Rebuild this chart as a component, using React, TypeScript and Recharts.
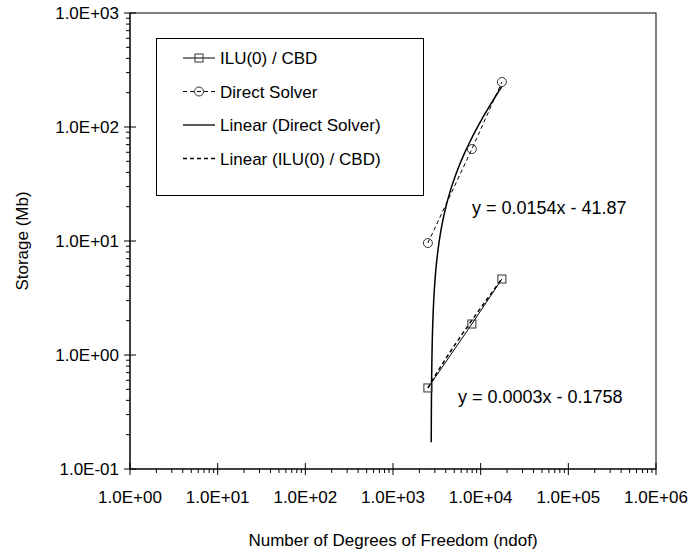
import { ComposedChart, Line, XAxis, YAxis } from "recharts"

// storage measurements per problem size
const ndof = [2500, 7940, 17460]
const iluStorage = [0.514, 1.87, 4.64]
const directStorage = [9.6, 64, 248]

// least-squares fits shown on the plot (labels print the rounded coefficients)
const directFit = { slope: 0.0154, intercept: -41.87 }
const iluFit = { slope: 0.000276, intercept: -0.1758 }
const directTrendStart = 2730

const xDecades = [1, 10, 100, 1000, 10000, 100000, 1000000]
const yDecades = [0.1, 1, 10, 100, 1000]

const FONT = "'Liberation Sans', Arial, sans-serif"
const W = 694
const H = 555
const PLOT = { left: 130, right: 656, top: 13, bottom: 469 }

const fitLabel = (f: { slope: number; intercept: number }, interceptDigits: number) =>
  `y = ${f.slope.toFixed(4)}x ${f.intercept < 0 ? "-" : "+"} ${Math.abs(f.intercept).toFixed(interceptDigits)}`

const withMinors = (decades: number[]) => {
  const out: number[] = []
  decades.forEach((d, i) => {
    out.push(d)
    if (i < decades.length - 1) for (let m = 2; m <= 9; m++) out.push(d * m)
  })
  return out
}

const sci = (v: number) => {
  const e = Math.round(Math.log10(v))
  return `1.0E${e < 0 ? "-" : "+"}${String(Math.abs(e)).padStart(2, "0")}`
}

const isDecade = (v: number) => Math.abs(Math.log10(v) - Math.round(Math.log10(v))) < 1e-9

const trend = (fit: { slope: number; intercept: number }, x0: number, x1: number, n = 80) => {
  const pts: { x: number; y: number }[] = []
  for (let i = 0; i <= n; i++) {
    const t = i / n
    const x = x0 + (x1 - x0) * t * t * t
    const y = fit.slope * x + fit.intercept
    if (y > 0) pts.push({ x, y })
  }
  return pts
}

const iluData = ndof.map((x, i) => ({ x, y: iluStorage[i] }))
const directData = ndof.map((x, i) => ({ x, y: directStorage[i] }))
const directTrend = trend(directFit, directTrendStart, ndof[ndof.length - 1])
const iluTrend = trend(iluFit, ndof[0], ndof[ndof.length - 1], 40)

const XTick = (props: any) => {
  const { x, y, payload } = props
  const v = payload.value
  if (!isDecade(v)) return <line x1={x} x2={x} y1={y} y2={y + 4} stroke="#000" />
  return (
    <g>
      <line x1={x} x2={x} y1={y - 6} y2={y + 6} stroke="#000" />
      <text x={x} y={y + 34} textAnchor="middle" fontSize={17} fontFamily={FONT} fill="#000">
        {sci(v)}
      </text>
    </g>
  )
}

const YTick = (props: any) => {
  const { x, y, payload } = props
  const v = payload.value
  if (!isDecade(v)) return <line x1={x - 4} x2={x} y1={y} y2={y} stroke="#000" />
  return (
    <g>
      <line x1={x - 6} x2={x + 6} y1={y} y2={y} stroke="#000" />
      <text x={x - 11} y={y + 6} textAnchor="end" fontSize={17} fontFamily={FONT} fill="#000">
        {sci(v)}
      </text>
    </g>
  )
}

const SquareDot = (props: any) => {
  const { cx, cy } = props
  if (cx == null || cy == null) return <g />
  return <rect x={cx - 4} y={cy - 4} width={8} height={8} fill="none" stroke="#333" />
}

const CircleDot = (props: any) => {
  const { cx, cy } = props
  if (cx == null || cy == null) return <g />
  return <circle cx={cx} cy={cy} r={4.5} fill="none" stroke="#333" />
}

const legendRows = [
  { name: "ILU(0) / CBD", dash: undefined, marker: "square", width: 1 },
  { name: "Direct Solver", dash: "4 3", marker: "circle", width: 1 },
  { name: "Linear (Direct Solver)", dash: undefined, marker: null, width: 1.3 },
  { name: "Linear (ILU(0) / CBD)", dash: "4 3", marker: null, width: 1.3 },
]

const ChartLegend = () => (
  <g>
    <rect x={156.5} y={38.5} width={267} height={157} fill="#fff" stroke="#000" />
    {legendRows.map((r, i) => {
      const cy = 58 + i * 33.5
      return (
        <g key={r.name}>
          <line x1={183} x2={215} y1={cy} y2={cy} stroke="#000" strokeWidth={r.width} strokeDasharray={r.dash} />
          {r.marker === "square" && <SquareDot cx={199} cy={cy} />}
          {r.marker === "circle" && <CircleDot cx={199} cy={cy} />}
          <text x={220} y={cy + 6} fontSize={17} fontFamily={FONT} fill="#000">
            {r.name}
          </text>
        </g>
      )
    })}
  </g>
)

export default function App() {
  return (
    <div style={{ position: "absolute", left: 0, top: 0, width: W, height: H, background: "#fff" }}>
      <ComposedChart
        width={W}
        height={H}
        margin={{ top: PLOT.top, right: W - PLOT.right, bottom: 0, left: 0 }}
      >
        <XAxis
          type="number"
          dataKey="x"
          scale="log"
          domain={[1, 1000000]}
          ticks={withMinors(xDecades)}
          interval={0}
          allowDataOverflow
          height={H - PLOT.bottom}
          tickSize={0}
          tickMargin={0}
          tick={<XTick />}
          axisLine={{ stroke: "#000" }}
        />
        <YAxis
          type="number"
          dataKey="y"
          scale="log"
          domain={[0.1, 1000]}
          ticks={withMinors(yDecades)}
          interval={0}
          allowDataOverflow
          width={PLOT.left}
          tickSize={0}
          tickMargin={0}
          tick={<YTick />}
          axisLine={{ stroke: "#000" }}
        />
        <rect
          x={PLOT.left}
          y={PLOT.top}
          width={PLOT.right - PLOT.left}
          height={PLOT.bottom - PLOT.top}
          fill="none"
          stroke="#000"
        />
        <Line
          data={directTrend}
          dataKey="y"
          type="linear"
          stroke="#000"
          strokeWidth={1.5}
          dot={false}
          isAnimationActive={false}
        />
        <Line
          data={iluTrend}
          dataKey="y"
          type="linear"
          stroke="#000"
          strokeWidth={1.5}
          strokeDasharray="4 3"
          dot={false}
          isAnimationActive={false}
        />
        <Line
          data={iluData}
          dataKey="y"
          type="linear"
          stroke="#000"
          strokeWidth={1}
          dot={<SquareDot />}
          isAnimationActive={false}
        />
        <Line
          data={directData}
          dataKey="y"
          type="linear"
          stroke="#000"
          strokeWidth={1}
          strokeDasharray="4 3"
          dot={<CircleDot />}
          isAnimationActive={false}
        />
        <ChartLegend />
        <text x={472} y={214} fontSize={18} fontFamily={FONT} fill="#000">
          {fitLabel(directFit, 2)}
        </text>
        <text x={458} y={403} fontSize={18} fontFamily={FONT} fill="#000">
          {fitLabel(iluFit, 4)}
        </text>
        <text
          x={22}
          y={(PLOT.top + PLOT.bottom) / 2}
          transform={`rotate(-90 22 ${(PLOT.top + PLOT.bottom) / 2})`}
          textAnchor="middle"
          dominantBaseline="central"
          fontSize={17}
          fontFamily={FONT}
          fill="#000"
        >
          Storage (Mb)
        </text>
        <text x={(PLOT.left + PLOT.right) / 2} y={546} textAnchor="middle" fontSize={17} fontFamily={FONT} fill="#000">
          Number of Degrees of Freedom (ndof)
        </text>
      </ComposedChart>
    </div>
  )
}
